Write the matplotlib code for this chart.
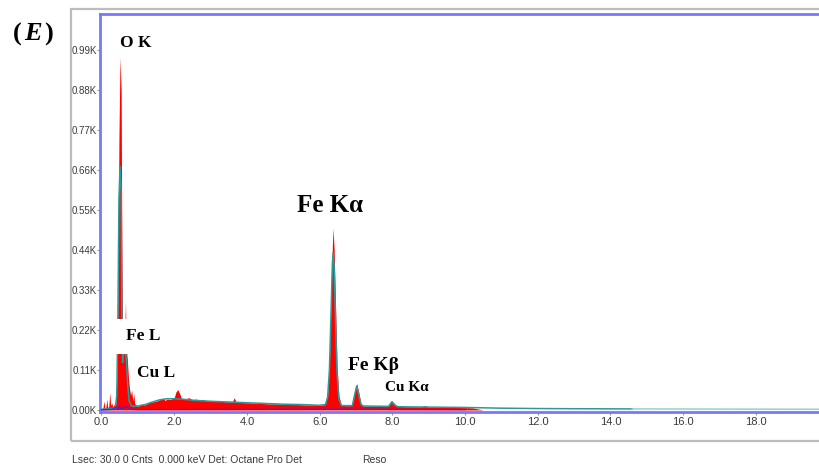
import matplotlib.pyplot as plt
from matplotlib.patches import Rectangle

# raw spectrum (keV, counts)
raw_kev = [0.00, 0.04, 0.07, 0.09, 0.12, 0.15, 0.17, 0.20, 0.23, 0.25, 0.28, 0.31,
           0.34, 0.37, 0.40, 0.42, 0.45, 0.48, 0.51, 0.54, 0.56, 0.58, 0.60, 0.63,
           0.66, 0.68, 0.71, 0.74, 0.77, 0.80, 0.83, 0.86, 0.89, 0.91, 0.95, 1.00,
           1.10, 1.20, 1.30, 1.40, 1.50, 1.60, 1.70, 1.75, 1.80, 1.90, 2.00, 2.05,
           2.10, 2.15, 2.20, 2.30, 2.40, 2.50, 2.60, 2.70, 2.80, 2.90, 3.00, 3.20,
           3.40, 3.60, 3.65, 3.70, 3.80, 4.00, 4.20, 4.40, 4.60, 4.80, 5.00, 5.20,
           5.40, 5.60, 5.80, 6.00, 6.10, 6.16, 6.22, 6.27, 6.31, 6.35, 6.37, 6.40,
           6.44, 6.48, 6.53, 6.59, 6.70, 6.85, 6.91, 6.96, 7.02, 7.08, 7.13, 7.19,
           7.40, 7.60, 7.80, 7.92, 7.98, 8.04, 8.12, 8.40, 8.80, 8.90, 9.00, 9.40,
           9.70, 9.80, 10.20, 10.50]
raw_counts = [0, 5, 25, 4, 8, 30, 6, 10, 48, 12, 20, 8,
              15, 10, 20, 80, 300, 750, 970, 880, 450, 180, 165, 170,
              300, 170, 140, 90, 60, 40, 55, 25, 45, 18, 14, 10,
              16, 14, 20, 22, 24, 28, 32, 26, 30, 29, 34, 50,
              56, 45, 32, 30, 34, 28, 30, 26, 28, 25, 26, 24,
              23, 22, 34, 22, 21, 20, 19, 18, 17, 17, 16, 15,
              15, 14, 14, 13, 14, 16, 40, 130, 290, 450, 500, 440,
              280, 120, 40, 15, 12, 12, 20, 50, 73, 48, 20, 11,
              11, 10, 10, 14, 26, 20, 10, 9, 9, 12, 8, 8,
              10, 7, 6, 0]

# fitted envelope (teal line)
fit_kev = [0.00, 0.20, 0.38, 0.42, 0.45, 0.48, 0.51, 0.54, 0.56, 0.58, 0.60, 0.63,
           0.66, 0.69, 0.72, 0.76, 0.82, 0.90, 1.00, 1.20, 1.40, 1.60, 1.80, 2.00,
           2.20, 2.50, 3.00, 3.50, 4.00, 4.50, 5.00, 5.50, 6.00, 6.16, 6.22, 6.27,
           6.31, 6.35, 6.37, 6.40, 6.44, 6.48, 6.53, 6.60, 6.90, 6.96, 7.02, 7.08,
           7.14, 7.20, 7.90, 7.98, 8.06, 8.15, 9.00, 10.00, 11.00, 12.00, 13.00, 14.60]
fit_counts = [2, 4, 6, 40, 240, 580, 670, 600, 280, 130, 150, 160,
              165, 130, 70, 25, 12, 10, 11, 15, 22, 28, 31, 31,
              30, 27, 24, 22, 20, 18, 16, 15, 13, 15, 35, 110,
              250, 400, 432, 390, 240, 100, 30, 12, 12, 40, 66, 40,
              15, 11, 10, 22, 14, 9, 8, 7, 5, 4, 3.5, 3]

# faint tail of the fit to the end of the range
tail_kev = [14.6, 19.8]
tail_counts = [3, 2]

# residual trace near the baseline
resid_kev = [0.0, 0.30, 0.40, 0.45, 0.50, 0.55, 0.60, 0.70, 0.80, 1.00, 6.2, 6.5, 10.0]
resid_counts = [0, 2, 8, 3, 10, 3, 6, 9, 2, 1, 2, 2, 1]

x_ticks = [0, 2, 4, 6, 8, 10, 12, 14, 16, 18]
y_ticks = [0, 110, 220, 330, 440, 550, 660, 770, 880, 990]

peak_labels = ["O K", "Fe L", "Cu L", "Fe K\u03b1", "Fe K\u03b2", "Cu K\u03b1"]
label_kev = [0.95, 1.14, 1.50, 6.29, 7.47, 8.40]
label_counts = [1009, 203, 102, 561, 121, 63]
label_sizes = [12.5, 12.5, 12.5, 18, 14, 11]

fig = plt.figure(figsize=(8.2, 4.68), dpi=100)

# grey outer panel frame
fig.patches.append(Rectangle((71 / 820, 1 - 441 / 468), 0.95, (441 - 9) / 468,
                             transform=fig.transFigure, fill=False,
                             edgecolor="#bdbdbd", lw=1.6))

ax = fig.add_axes([100.5 / 820, 1 - 412 / 468, 721.5 / 820, 398 / 468])

ax.fill_between(raw_kev, 0, raw_counts, color="#ff0000", lw=0, zorder=2)
ax.plot(fit_kev, fit_counts, color="#2a9a9a", lw=1.1, zorder=3)
ax.plot(tail_kev, tail_counts, color="#8fd3d3", lw=1.1, zorder=3)
ax.plot(resid_kev, resid_counts, color="#2a2aff", lw=0.9, zorder=4)

ax.set_xlim(-0.0275, 19.82)
ax.set_ylim(-5.5, 1089)

ax.set_xticks(x_ticks)
ax.set_xticklabels([f"{v:.1f}" for v in x_ticks])
ax.set_yticks(y_ticks)
ax.set_yticklabels([f"{v / 1000:.2f}K" for v in y_ticks])
ax.tick_params(length=2, width=0.6, color="#808080", labelsize=8,
               labelcolor="#3a3a3a", pad=1.5)
ax.tick_params(axis="y", labelsize=7.0, pad=0.5)
for lab in ax.get_xticklabels() + ax.get_yticklabels():
    lab.set_family("Liberation Sans")

for side in ["left", "top", "bottom", "right"]:
    ax.spines[side].set_color("#7878ff")
    ax.spines[side].set_linewidth(2.0)

for i, name in enumerate(peak_labels):
    box = None
    if name == "Fe L":
        box = dict(boxstyle="square,pad=0.55", fc="white", ec="none")
    ax.text(label_kev[i], label_counts[i], name, ha="center", va="center",
            fontsize=label_sizes[i], fontweight="bold", family="Liberation Serif",
            bbox=box, zorder=6)

# panel tag
fig.text(17 / 820, 1 - 34 / 468, "(", fontsize=19, fontweight="bold",
         family="Liberation Serif", ha="center", va="center")
fig.text(33 / 820, 1 - 34 / 468, "E", fontsize=19, fontweight="bold", style="italic",
         family="Liberation Serif", ha="center", va="center")
fig.text(49 / 820, 1 - 34 / 468, ")", fontsize=19, fontweight="bold",
         family="Liberation Serif", ha="center", va="center")

fig.text(72 / 820, 1 - 460 / 468, "Lsec: 30.0 0 Cnts  0.000 keV Det: Octane Pro Det",
         fontsize=7.5, color="#3a3a3a", family="Liberation Sans", va="center")
fig.text(362 / 820, 1 - 460 / 468, "Reso", fontsize=7.5, color="#3a3a3a",
         family="Liberation Sans", va="center")

fig.savefig("out.png", dpi=100)
